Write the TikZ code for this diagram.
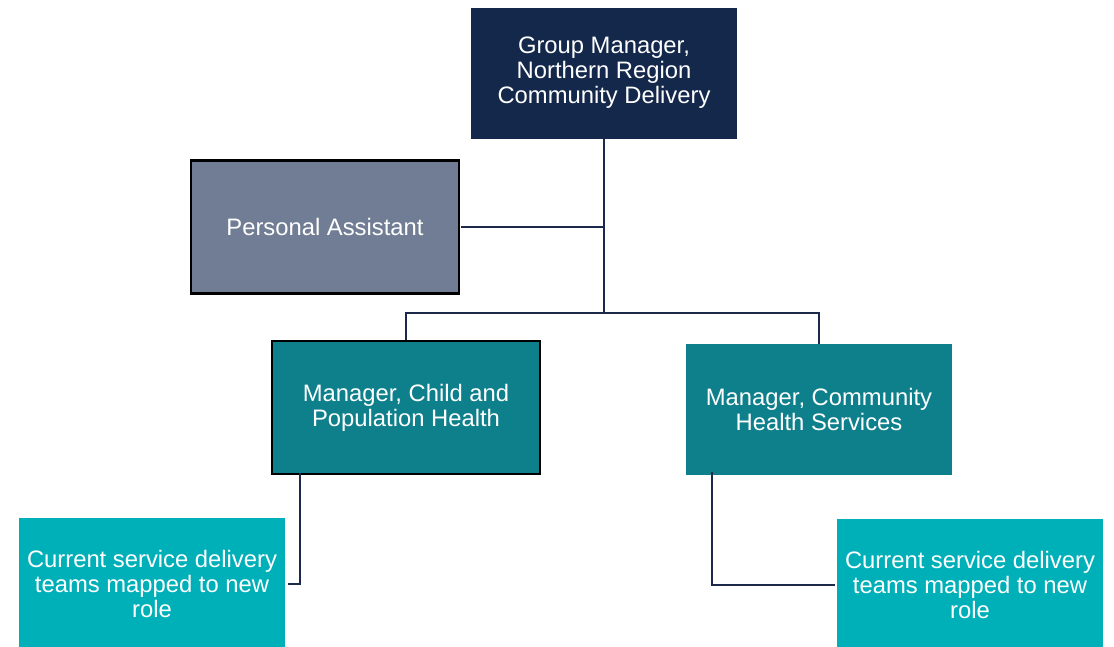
\documentclass[tikz,border=0pt]{standalone}
\usepackage{fontspec}
\setmainfont{Liberation Sans}
\definecolor{navy}{HTML}{14284B}
\definecolor{slate}{HTML}{717D94}
\definecolor{teal1}{HTML}{0E808C}
\definecolor{teal2}{HTML}{00B0B9}
\definecolor{lineblue}{HTML}{1B2A4A}
\tikzset{
  box/.style={rectangle, inner sep=0pt, align=center, text=white,
    font=\fontsize{23.8}{25}\selectfont},
  conn/.style={draw=lineblue, line width=2.8pt},
}
\begin{document}
\begin{tikzpicture}[x=1pt,y=-1pt]
\useasboundingbox[fill=white] (0,0) rectangle (1114,646);
\node[box, fill=navy, minimum width=266pt, minimum height=131pt] (top) at (604,73.5)
  {\raisebox{-2pt}{\begin{tabular}{@{}c@{}}Group Manager,\\Northern Region\\Community Delivery\end{tabular}}};
\node[box, fill=slate, draw=black, line width=2.5pt, minimum width=268pt, minimum height=133pt] (pa) at (325,227)
  {Personal Assistant};
\node[box, fill=teal1, draw=black, line width=2.5pt, minimum width=268pt, minimum height=133pt] (child) at (406,407.5)
  {Manager, Child and\\Population Health};
\node[box, fill=teal1, minimum width=266pt, minimum height=131pt] (comm) at (819,409.5)
  {Manager, Community\\Health Services};
\node[box, fill=teal2, minimum width=266pt, minimum height=132pt] (bl) at (152,584)
  {Current service delivery\\teams mapped to new\\role};
\node[box, fill=teal2, minimum width=266pt, minimum height=132pt] (br) at (970,585)
  {Current service delivery\\teams mapped to new\\role};
\coordinate (j2) at (604,313);
\draw[conn] ([yshift=3pt]top.south) -- (j2);
\draw[conn] ([xshift=1pt]pa.east) -- (pa.east -| top.south);
\draw[conn] (child.north) |- (j2) -| (comm.north);
\draw[conn] ([xshift=-106pt,yshift=2pt]child.south) |- ([xshift=3pt]bl.east);
\draw[conn] ([xshift=-107pt,yshift=3pt]comm.south) |- ([xshift=-2pt]br.west);
\end{tikzpicture}
\end{document}
